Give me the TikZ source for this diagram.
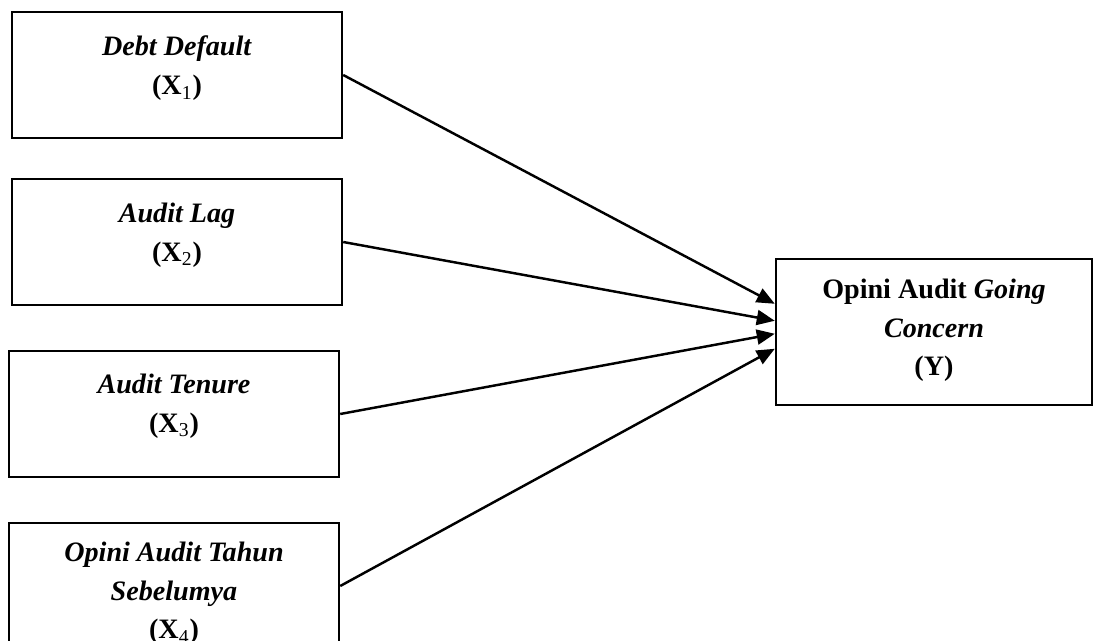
\documentclass[tikz,border=0pt]{standalone}
\usepackage{fontspec}
\setmainfont{Liberation Serif}
\usetikzlibrary{arrows.meta}

\tikzset{
  varbox/.style={draw, line width=1.4pt, minimum width=6.6cm, minimum height=2.52cm, inner sep=0pt},
  vartext/.style={anchor=north, align=center, inner sep=0pt, font=\fontsize{16}{22}\selectfont\bfseries},
  link/.style={line width=1.4pt, -{Triangle[length=0.36cm, width=0.3cm]}}
}

\begin{document}
\begin{tikzpicture}
  \useasboundingbox (0,0) rectangle (21.88,-12.82);
  \clip (0,0) rectangle (21.88,-12.82);
  % Draw independent variables
  \node[varbox] (x1) at (3.54,-1.50) {};
  \node[varbox] (x2) at (3.54,-4.84) {};
  \node[varbox] (x3) at (3.48,-8.28) {};
  \node[varbox] (x4) at (3.48,-11.72) {};
  \node[vartext] (t1) at ([yshift=-0.5cm]x1.north) {\textit{Debt Default}\\(X\textsubscript{\mdseries 1})};
  \node[vartext] (t2) at ([yshift=-0.5cm]x2.north) {\textit{Audit Lag}\\(X\textsubscript{\mdseries 2})};
  \node[vartext] (t3) at ([yshift=-0.48cm]x3.north) {\textit{Audit Tenure}\\(X\textsubscript{\mdseries 3})};
  \node[vartext] (t4) at ([yshift=-0.4cm]x4.north) {\textit{Opini Audit Tahun}\\\textit{Sebelumya}\\(X\textsubscript{\mdseries 4})};
  % Draw dependent variable
  \node[varbox, minimum width=6.32cm, minimum height=2.92cm] (y) at (18.68,-6.64) {};
  \node[vartext] (ty) at ([yshift=-0.42cm]y.north) {Opini Audit \textit{Going}\\\textit{Concern}\\(Y)};
  % Draw arrows
  \coordinate (y1) at ([yshift=-0.92cm]y.north west);
  \coordinate (y2) at ([yshift=-1.26cm]y.north west);
  \coordinate (y3) at ([yshift=-1.52cm]y.north west);
  \coordinate (y4) at ([yshift=-1.82cm]y.north west);
  \draw[link] (x1.east) -- (y1);
  \draw[link] (x2.east) -- (y2);
  \draw[link] (x3.east) -- (y3);
  \draw[link] (x4.east) -- (y4);
\end{tikzpicture}
\end{document}
